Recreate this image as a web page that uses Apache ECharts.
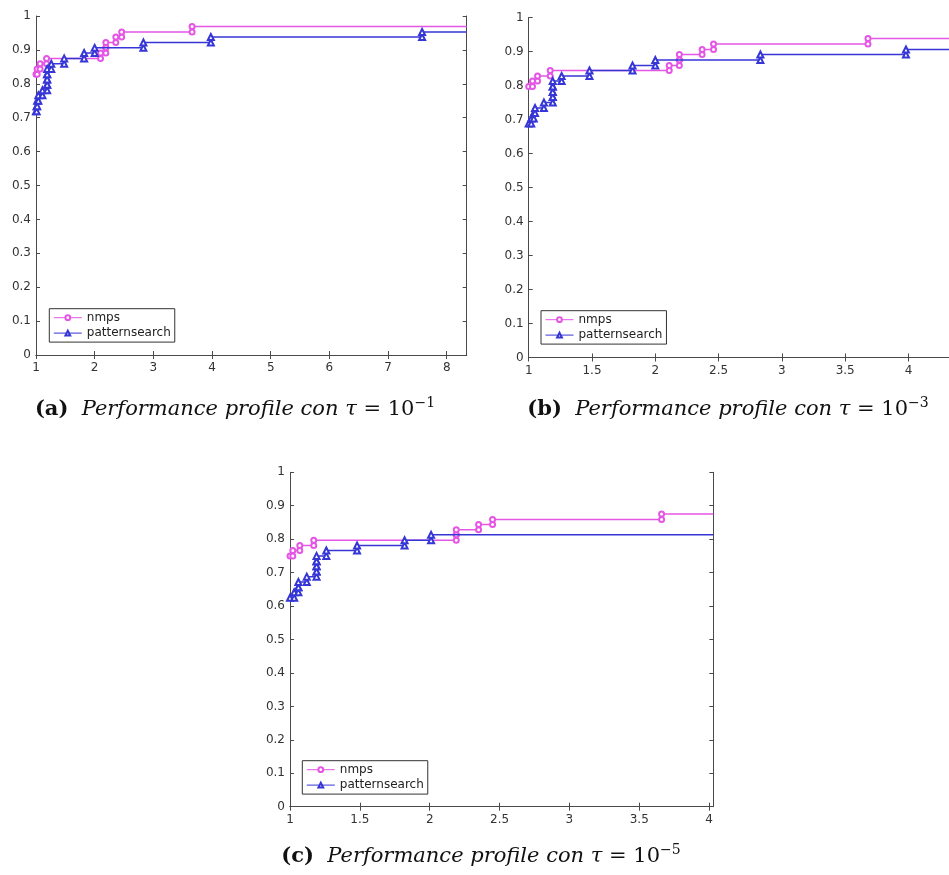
<!DOCTYPE html>
<html><head><meta charset="utf-8">
<script src="https://cdn.jsdelivr.net/npm/echarts@6/dist/echarts.min.js"></script>
<style>html,body{margin:0;padding:0;background:#fff}#chart{width:949px;height:875px}</style>
</head><body><div id="chart"></div>
<script>
// ---- data ----
const seriesNames = ['nmps', 'patternsearch'];

// tick labels
const yTicks = [0, 0.1, 0.2, 0.3, 0.4, 0.5, 0.6, 0.7, 0.8, 0.9, 1];
const aXTicks = [1, 2, 3, 4, 5, 6, 7, 8];
const bXTicks = [1, 1.5, 2, 2.5, 3, 3.5, 4];
const cXTicks = [1, 1.5, 2, 2.5, 3, 3.5, 4];

// (a) tau = 1e-1
const aNmpsX = [1, 1.02, 1.07, 1.18, 2.10, 2.19, 2.19, 2.36, 2.46, 3.66];
const aNmpsY = [0.828, 0.844, 0.859, 0.875, 0.891, 0.906, 0.922, 0.938, 0.953, 0.969];
const aPatX = [1, 1.01, 1.02, 1.04, 1.11, 1.19, 1.19, 1.19, 1.19, 1.26, 1.48, 1.82, 2.00, 2.83, 3.98, 7.58];
const aPatY = [0.719, 0.734, 0.750, 0.766, 0.781, 0.797, 0.813, 0.828, 0.844, 0.859, 0.875, 0.891, 0.906, 0.922, 0.938, 0.953];

// (b) tau = 1e-3
const bNmpsX = [1, 1.03, 1.07, 1.17, 2.11, 2.19, 2.19, 2.37, 2.46, 3.68];
const bNmpsY = [0.797, 0.813, 0.828, 0.844, 0.859, 0.875, 0.891, 0.906, 0.922, 0.938];
const bPatX = [1, 1.02, 1.04, 1.05, 1.12, 1.19, 1.19, 1.19, 1.19, 1.26, 1.48, 1.82, 2.00, 2.83, 3.98];
const bPatY = [0.688, 0.703, 0.719, 0.734, 0.750, 0.766, 0.781, 0.797, 0.813, 0.828, 0.844, 0.859, 0.875, 0.891, 0.906];

// (c) tau = 1e-5
const cNmpsX = [1, 1.02, 1.07, 1.17, 2.19, 2.19, 2.35, 2.45, 3.66];
const cNmpsY = [0.750, 0.766, 0.781, 0.797, 0.813, 0.828, 0.844, 0.859, 0.875];
const cPatX = [1, 1.03, 1.06, 1.06, 1.12, 1.19, 1.19, 1.19, 1.19, 1.26, 1.48, 1.82, 2.01];
const cPatY = [0.625, 0.641, 0.656, 0.672, 0.688, 0.703, 0.719, 0.734, 0.750, 0.766, 0.781, 0.797, 0.813];

const captionLabels = ['(a)', '(b)', '(c)'];
const tauExponents = ['\u22121', '\u22123', '\u22125'];

// ---- layout / styles ----
const panels = [
  {left: 36, top: 16, width: 430.7, height: 339, xmax: 8.34, xTicks: aXTicks, right: true,
   legend: {left: 49.3, top: 308.7}, caption: {x: 235, y: 410}},
  {left: 528.7, top: 17.5, width: 420.3, height: 340, xmax: 4.32, xTicks: bXTicks, right: false,
   legend: {left: 541, top: 310.7}, caption: {x: 728, y: 410}},
  {left: 290, top: 472.3, width: 423.3, height: 334.4, xmax: 4.03, xTicks: cXTicks, right: true,
   legend: {left: 302.3, top: 760.7}, caption: {x: 481, y: 857}}
];
const dataSets = [
  [[aNmpsX, aNmpsY], [aPatX, aPatY]],
  [[bNmpsX, bNmpsY], [bPatX, bPatY]],
  [[cNmpsX, cNmpsY], [cPatX, cPatY]]
];
const colors = ['#e556e5', '#3636d6'];
const symbols = ['emptyCircle', 'emptyTriangle'];
const axisColor = '#4a4a4a';
const labelFont = 'DejaVu Sans';

function buildSteps(xs, ys, xmax) {
  const pts = [[xs[0], ys[0]]];
  for (let i = 1; i < xs.length; i++) {
    pts.push([xs[i], ys[i - 1]]);
    pts.push([xs[i], ys[i]]);
  }
  pts.push({value: [xmax, ys[ys.length - 1]], symbol: 'none'});
  return pts;
}

const grid = [], xAxis = [], yAxis = [], series = [], legend = [], graphic = [];
const lineStyleAx = {show: true, lineStyle: {color: axisColor, width: 1}};
function tick(values) {
  return {show: true, inside: true, length: 4, customValues: values, lineStyle: {color: axisColor, width: 1}};
}

panels.forEach((p) => {
  grid.push({left: p.left, top: p.top, width: p.width, height: p.height, containLabel: false, outerBoundsMode: 'none'});
});
// bottom x axes
panels.forEach((p, i) => {
  xAxis.push({type: 'value', gridIndex: i, position: 'bottom', min: 1, max: p.xmax,
    axisLine: lineStyleAx, axisTick: tick(p.xTicks), splitLine: {show: false},
    axisLabel: {customValues: p.xTicks, color: '#333', fontSize: 12, fontFamily: labelFont, margin: 7}});
});
// top x axes (box)
panels.forEach((p, i) => {
  xAxis.push({type: 'value', gridIndex: i, position: 'top', min: 1, max: p.xmax,
    axisLine: lineStyleAx, axisTick: tick(p.xTicks), splitLine: {show: false}, axisLabel: {show: false}});
});
// left y axes
panels.forEach((p, i) => {
  yAxis.push({type: 'value', gridIndex: i, position: 'left', min: 0, max: 1,
    axisLine: lineStyleAx, axisTick: tick(yTicks), splitLine: {show: false},
    axisLabel: {customValues: yTicks, color: '#333', fontSize: 12, fontFamily: labelFont, margin: 5}});
});
// right y axes (box)
panels.forEach((p, i) => {
  yAxis.push({type: 'value', gridIndex: i, position: 'right', min: 0, max: 1, show: p.right,
    axisLine: lineStyleAx, axisTick: tick(yTicks), splitLine: {show: false}, axisLabel: {show: false}});
});

dataSets.forEach((ds, i) => {
  ds.forEach((d, k) => {
    series.push({
      type: 'line', name: seriesNames[k], xAxisIndex: i, yAxisIndex: i,
      data: buildSteps(d[0], d[1], panels[i].xmax),
      symbol: symbols[k], symbolSize: k === 0 ? 5 : 6, showAllSymbol: true,
      lineStyle: {color: colors[k], width: 1.5},
      itemStyle: {color: colors[k], borderColor: colors[k], borderWidth: 1.2},
      emphasis: {disabled: true}, clip: true, z: 2 + k
    });
  });
});

const serif = 'DejaVu Serif';
panels.forEach((p, i) => {
  legend.push({
    left: p.legend.left, top: p.legend.top, orient: 'vertical', data: seriesNames,
    itemWidth: 28, itemHeight: 6, itemGap: 3.4, padding: [3, 4, 3, 4],
    lineStyle: {width: 1},
    borderColor: '#333', borderWidth: 1, backgroundColor: '#fff', selectedMode: false,
    textStyle: {fontFamily: labelFont, fontSize: 12, color: '#222'}
  });
  graphic.push({
    type: 'text', x: p.caption.x, y: p.caption.y, silent: true,
    style: {
      text: '{b|' + captionLabels[i] + '}{i|  Performance profile con }{i|\u03c4}{n| = 10}{s|' + tauExponents[i] + '}',
      align: 'center', verticalAlign: 'middle', fill: '#111',
      rich: {
        b: {fontFamily: serif, fontWeight: 'bold', fontSize: 21, lineHeight: 28, fill: '#111'},
        i: {fontFamily: serif, fontStyle: 'italic', fontSize: 21, lineHeight: 28, fill: '#111'},
        n: {fontFamily: serif, fontSize: 21, lineHeight: 28, fill: '#111'},
        s: {fontFamily: serif, fontSize: 14, lineHeight: 14, verticalAlign: 'top', fill: '#111'}
      }
    }
  });
});

const chart = echarts.init(document.getElementById('chart'), null, {renderer: 'canvas'});
chart.setOption({
  animation: false, backgroundColor: '#fff',
  grid, xAxis, yAxis, series, legend, graphic
});
</script></body></html>
